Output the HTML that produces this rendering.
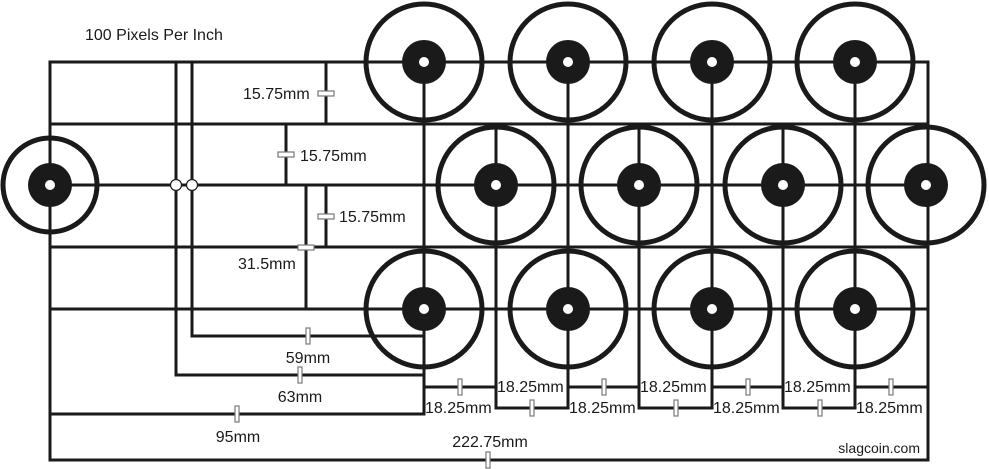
<!DOCTYPE html>
<html><head><meta charset="utf-8"><style>html,body{margin:0;padding:0;background:#fff;}svg{display:block;}text{font-family:"Liberation Sans",Arial,sans-serif;font-size:16px;fill:#1a1a1a;}</style></head><body>
<svg width="989" height="469" viewBox="0 0 989 469" xmlns="http://www.w3.org/2000/svg">
<g stroke="#1a1a1a" stroke-width="3" fill="none">
<rect x="50" y="62" width="878" height="398"/>
<line x1="50" y1="124" x2="928" y2="124"/>
<line x1="50" y1="185" x2="928" y2="185"/>
<line x1="50" y1="247" x2="928" y2="247"/>
<line x1="50" y1="309" x2="928" y2="309"/>
<polyline points="176,62 176,375 424,375"/>
<polyline points="192,62 192,336 424,336"/>
<polyline points="50,414 424,414 424,62"/>
<line x1="326" y1="62" x2="326" y2="124"/>
<line x1="286" y1="124" x2="286" y2="185"/>
<line x1="306" y1="185" x2="306" y2="309"/>
<line x1="326" y1="185" x2="326" y2="247"/>
<line x1="424" y1="387" x2="496" y2="387"/>
<line x1="568" y1="387" x2="639" y2="387"/>
<line x1="712" y1="387" x2="783" y2="387"/>
<line x1="855" y1="387" x2="928" y2="387"/>
<polyline points="496,124 496,408 568,408 568,62"/>
<polyline points="639,124 639,408 712,408 712,62"/>
<polyline points="783,124 783,408 855,408 855,62"/>
</g>
<g stroke="#1a1a1a" stroke-width="5" fill="none">
<circle cx="424" cy="62" r="58"/><circle cx="568" cy="62" r="58"/><circle cx="712" cy="62" r="58"/><circle cx="855" cy="62" r="58"/>
<circle cx="496" cy="185" r="58"/><circle cx="639" cy="185" r="58"/><circle cx="783" cy="185" r="58"/><circle cx="926" cy="185" r="58"/>
<circle cx="424" cy="309" r="58"/><circle cx="568" cy="309" r="58"/><circle cx="712" cy="309" r="58"/><circle cx="855" cy="309" r="58"/>
<circle cx="50" cy="185" r="47"/>
</g>
<g fill="#1a1a1a">
<circle cx="424" cy="62" r="22"/><circle cx="568" cy="62" r="22"/><circle cx="712" cy="62" r="22"/><circle cx="855" cy="62" r="22"/>
<circle cx="496" cy="185" r="22"/><circle cx="639" cy="185" r="22"/><circle cx="783" cy="185" r="22"/><circle cx="926" cy="185" r="22"/>
<circle cx="424" cy="309" r="22"/><circle cx="568" cy="309" r="22"/><circle cx="712" cy="309" r="22"/><circle cx="855" cy="309" r="22"/>
<circle cx="50" cy="185" r="22"/>
</g>
<g fill="#fff">
<circle cx="424" cy="62" r="5"/><circle cx="568" cy="62" r="5"/><circle cx="712" cy="62" r="5"/><circle cx="855" cy="62" r="5"/>
<circle cx="496" cy="185" r="5"/><circle cx="639" cy="185" r="5"/><circle cx="783" cy="185" r="5"/><circle cx="926" cy="185" r="5"/>
<circle cx="424" cy="309" r="5"/><circle cx="568" cy="309" r="5"/><circle cx="712" cy="309" r="5"/><circle cx="855" cy="309" r="5"/>
<circle cx="50" cy="185" r="5"/>
</g>
<g fill="#fff" stroke="#1a1a1a" stroke-width="1.2">
<circle cx="176" cy="185" r="5.5"/><circle cx="192" cy="185" r="5.5"/>
</g>
<g fill="#fff" stroke="#777" stroke-width="1.2">
<rect x="318" y="91" width="16" height="5"/>
<rect x="278" y="152" width="16" height="5"/>
<rect x="318" y="214" width="16" height="5"/>
<rect x="298" y="245" width="16" height="5"/>
<rect x="306" y="328" width="4" height="16"/>
<rect x="298" y="367" width="4" height="16"/>
<rect x="235" y="406" width="4" height="16"/>
<rect x="486" y="452" width="4" height="16"/>
<rect x="458" y="379" width="4" height="16"/>
<rect x="602" y="379" width="4" height="16"/>
<rect x="746" y="379" width="4" height="16"/>
<rect x="889" y="379" width="4" height="16"/>
<rect x="530" y="400" width="4" height="16"/>
<rect x="674" y="400" width="4" height="16"/>
<rect x="818" y="400" width="4" height="16"/>
</g>
<text x="85" y="40">100 Pixels Per Inch</text>
<text x="243" y="99">15.75mm</text>
<text x="300" y="161">15.75mm</text>
<text x="339" y="222">15.75mm</text>
<text x="238" y="269">31.5mm</text>
<text x="308" y="363" text-anchor="middle">59mm</text>
<text x="300" y="402" text-anchor="middle">63mm</text>
<text x="238" y="442" text-anchor="middle">95mm</text>
<text x="490" y="447" text-anchor="middle">222.75mm</text>
<text x="425" y="413">18.25mm</text>
<text x="569" y="413">18.25mm</text>
<text x="713" y="413">18.25mm</text>
<text x="856" y="413">18.25mm</text>
<text x="497" y="392">18.25mm</text>
<text x="640" y="392">18.25mm</text>
<text x="784" y="392">18.25mm</text>
<text x="920" y="453" text-anchor="end" style="font-size:14px">slagcoin.com</text>
</svg>
</body></html>
